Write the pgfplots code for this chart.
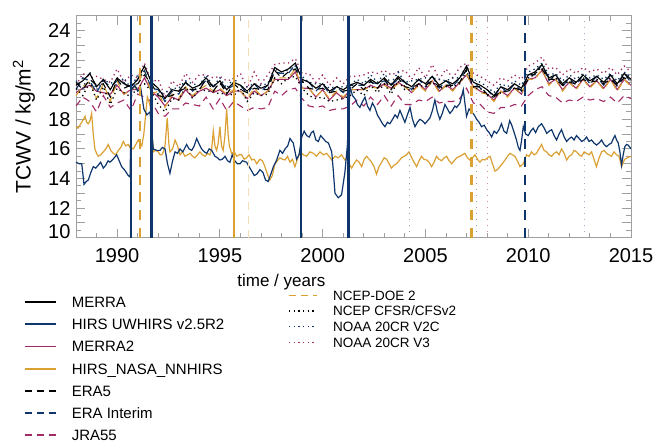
\documentclass[border=0pt]{standalone}
\usepackage{pgfplots}
\usepackage{pgfplotstable}
\pgfplotsset{compat=1.18}
\usepackage{fontspec}
\setmainfont{Liberation Sans}

\definecolor{hnavy}{RGB}{14,54,108}
\definecolor{hplum}{RGB}{162,42,102}
\definecolor{hgold}{RGB}{218,160,50}

\tikzset{
  dsh/.style={dash pattern=on 7pt off 5pt},
  dts/.style={dash pattern=on 1.3pt off 3.4pt},
}

% reanalyses, every third of a year
\pgfplotstableread{
t merra merra2 era5 erai jra ncep2 cfsr v2c v3
1988.00 20.3 19.8 20.5 20.0 18.9 19.6 20.1 20.6 20.3
1988.33 20.6 20.1 20.0 20.8 19.5 20.2 19.6 20.1 21.1
1988.67 21.1 20.3 20.7 20.6 19.2 20.6 20.5 21.2 20.8
1989.00 20.2 19.9 20.3 19.8 18.5 19.4 19.3 20.0 20.9
1989.33 20.7 19.8 20.4 20.6 19.6 20.4 20.2 20.6 20.7
1989.67 20.0 19.7 19.5 20.2 18.8 19.2 19.0 20.5 20.5
1990.00 20.8 20.3 20.7 20.6 19.1 20.6 20.1 20.3 21.4
1990.33 20.4 19.7 20.1 20.5 19.3 19.7 19.8 20.8 20.5
1990.67 20.2 20.0 20.3 19.9 18.6 19.9 19.5 20.1 21.0
1991.00 20.7 20.0 20.4 20.7 19.7 20.4 20.2 21.0 20.8
1991.33 21.6 20.8 21.0 21.3 19.5 21.3 20.4 21.0 21.8
1991.67 20.5 19.9 20.4 20.1 19.2 19.7 19.9 20.8 20.5
1992.00 20.1 19.5 19.6 20.0 18.4 19.9 19.0 19.7 20.7
1992.33 19.4 18.9 19.5 19.2 18.2 18.8 18.5 19.8 19.5
1992.67 20.0 19.5 19.6 19.9 18.7 19.7 19.4 20.1 20.6
1993.00 19.9 19.3 19.9 19.7 18.7 19.4 19.3 20.1 20.2
1993.33 20.5 20.0 20.1 20.5 19.1 20.2 20.2 20.6 21.1
1993.67 20.1 19.5 20.0 19.9 19.0 19.6 19.4 20.4 20.5
1994.00 20.3 19.9 20.0 20.3 18.9 20.0 20.1 20.3 21.0
1994.33 20.8 20.1 20.7 20.6 19.5 20.3 19.9 21.0 21.0
1994.67 20.2 19.8 19.9 20.2 18.7 19.9 19.9 20.2 20.8
1995.00 20.6 20.0 20.5 20.4 19.4 20.1 19.7 20.8 20.9
1995.33 20.0 19.6 19.7 20.0 18.6 19.7 19.8 20.1 20.6
1995.67 20.5 19.9 20.4 20.3 19.2 20.0 19.6 20.8 20.7
1996.00 20.3 19.9 20.0 20.3 18.9 19.9 20.1 20.2 21.1
1996.33 19.9 19.4 19.8 19.7 18.6 19.4 19.2 20.2 20.1
1996.67 20.4 19.9 20.1 20.4 18.8 20.1 19.8 20.4 21.2
1997.00 20.1 19.6 20.0 19.9 18.7 19.6 19.6 20.3 20.4
1997.33 20.3 19.9 20.0 20.3 18.8 19.9 19.7 20.4 21.0
1997.67 21.5 20.7 21.3 21.2 19.9 20.8 20.8 21.5 21.7
1998.00 21.2 20.7 20.8 21.1 19.6 20.8 20.4 21.0 21.8
1998.33 21.4 20.7 21.2 21.1 20.0 20.8 20.8 21.4 21.8
1998.67 21.8 21.2 21.4 21.7 20.1 21.4 20.9 21.6 22.1
1999.00 20.7 20.1 20.6 20.5 19.4 20.1 20.1 20.9 21.1
1999.33 20.5 20.1 20.1 20.5 18.9 20.1 19.6 20.5 21.1
1999.67 20.1 19.5 20.0 19.9 18.8 19.5 19.4 20.4 20.5
2000.00 20.4 20.0 20.1 20.4 18.9 20.0 19.5 20.4 21.0
2000.33 19.9 19.3 19.8 19.7 18.6 19.4 19.2 20.1 20.3
2000.67 20.2 19.8 19.9 20.2 18.7 19.9 19.3 20.2 20.8
2001.00 20.0 19.4 19.9 19.8 18.7 19.5 19.4 20.2 20.4
2001.33 20.3 20.0 20.0 20.3 18.9 20.0 19.6 20.3 20.9
2001.67 20.5 20.0 20.4 20.3 19.3 20.0 20.0 20.7 20.9
2002.00 20.3 20.0 20.0 20.3 18.9 20.0 19.6 20.4 21.0
2002.33 20.7 20.3 20.6 20.5 19.5 20.2 20.3 21.0 21.2
2002.67 20.4 20.1 20.1 20.4 19.0 20.1 19.8 20.5 21.1
2003.00 20.8 20.4 20.7 20.6 19.6 20.3 20.4 21.1 21.3
2003.33 20.3 20.1 20.0 20.3 18.9 20.0 19.7 20.4 21.0
2003.67 20.9 20.5 20.8 20.7 19.6 20.4 20.6 21.2 21.2
2004.00 20.5 20.2 20.2 20.5 19.0 20.2 20.0 20.5 21.3
2004.33 20.2 19.8 20.1 20.0 19.0 19.8 20.0 20.6 20.7
2004.67 20.7 20.4 20.4 20.7 19.3 20.3 20.3 20.7 21.5
2005.00 20.4 20.0 20.3 20.2 19.2 19.9 20.2 20.8 20.8
2005.33 20.9 20.6 20.6 20.9 19.5 20.6 20.5 20.8 21.7
2005.67 20.3 19.9 20.2 20.1 19.1 19.8 20.1 20.7 20.7
2006.00 20.6 20.3 20.3 20.6 19.2 20.3 20.2 20.6 21.4
2006.33 20.4 20.0 20.3 20.2 19.2 19.9 20.2 20.8 20.8
2006.67 20.8 20.5 20.5 20.8 19.4 20.5 20.4 20.8 21.5
2007.00 21.6 21.0 21.4 21.3 20.1 21.0 21.3 21.6 21.8
2007.33 20.5 20.2 20.2 20.5 19.1 20.2 20.1 20.7 21.1
2007.67 20.3 19.9 20.2 20.1 19.0 19.8 20.1 20.5 20.9
2008.00 20.0 19.7 19.7 20.0 18.5 19.7 19.6 20.2 20.6
2008.33 19.6 19.3 19.5 19.5 18.4 19.2 19.5 19.8 20.3
2008.67 20.2 19.9 19.9 20.2 18.8 19.9 19.8 20.4 20.8
2009.00 20.0 19.6 19.9 19.8 18.8 19.5 19.9 20.2 20.6
2009.33 20.4 20.1 20.1 20.4 19.0 20.1 20.1 20.6 21.0
2009.67 20.1 19.7 20.0 19.9 18.9 19.7 19.9 20.3 20.7
2010.00 21.0 20.7 20.7 21.0 19.6 20.7 20.8 21.2 21.6
2010.33 21.2 20.8 21.1 21.0 20.0 20.7 21.2 21.4 21.8
2010.67 21.7 21.3 21.4 21.7 20.2 21.4 21.5 21.8 22.2
2011.00 20.8 20.4 20.7 20.6 19.6 20.3 20.8 21.0 21.4
2011.33 21.0 20.7 20.7 21.0 19.5 20.7 20.8 21.1 21.5
2011.67 20.4 20.0 20.3 20.2 19.1 19.9 20.3 20.6 21.0
2012.00 20.8 20.5 20.5 20.8 19.3 20.5 20.6 21.0 21.4
2012.33 20.5 20.1 20.4 20.3 19.2 20.0 20.5 20.7 21.1
2012.67 21.0 20.7 20.7 21.0 19.5 20.7 20.8 21.1 21.5
2013.00 20.6 20.2 20.5 20.4 19.3 20.1 20.6 20.8 21.2
2013.33 20.9 20.6 20.6 20.9 19.4 20.6 20.7 21.0 21.4
2013.67 20.5 20.1 20.4 20.3 19.2 20.0 20.5 20.7 21.1
2014.00 21.0 20.7 20.7 21.0 19.5 20.7 20.8 21.1 21.5
2014.33 20.4 20.0 20.3 20.2 19.1 19.9 20.4 20.6 21.0
2014.67 21.1 20.7 20.8 21.1 19.6 20.7 20.9 21.2 21.6
2015.00 20.7 20.3 20.6 20.5 19.4 20.2 20.7 20.8 21.2
}\reana

% HIRS UWHIRS v2.5R2
\pgfplotstableread{
t v
1988.00 15.1
1988.15 15.0
1988.28 15.0
1988.39 13.6
1988.50 13.8
1988.60 13.9
1988.72 14.4
1988.84 14.8
1988.96 14.7
1989.08 14.9
1989.20 15.1
1989.33 14.7
1989.45 14.9
1989.56 15.2
1989.65 15.1
1989.80 15.3
1989.98 15.6
1990.10 15.2
1990.22 14.8
1990.35 14.6
1990.45 14.4
1990.54 14.2
1990.63 14.1
1990.70 20.0
1990.85 20.3
1991.00 19.9
1991.15 20.1
1991.30 18.7
1991.45 18.3
1991.60 18.5
1991.76 16.0
1991.92 15.9
1992.09 15.9
1992.20 16.1
1992.33 16.0
1992.45 15.0
1992.57 14.35
1992.70 15.2
1992.82 15.8
1992.94 15.7
1993.06 16.0
1993.20 15.8
1993.38 16.3
1993.50 16.0
1993.63 15.9
1993.75 16.2
1993.87 16.7
1994.00 16.3
1994.11 16.0
1994.24 15.8
1994.36 15.7
1994.48 16.0
1994.60 15.9
1994.76 15.5
1994.88 15.4
1995.00 15.25
1995.12 15.3
1995.25 15.5
1995.37 15.2
1995.49 15.1
1995.60 15.6
1995.72 15.2
1995.85 15.0
1995.98 15.0
1996.10 15.2
1996.30 15.1
1996.42 14.8
1996.55 14.5
1996.67 14.2
1996.80 14.3
1996.95 14.6
1997.10 14.4
1997.22 13.9
1997.35 13.8
1997.48 14.3
1997.60 14.8
1997.75 15.2
1997.92 15.9
1998.05 15.7
1998.17 16.0
1998.30 16.2
1998.41 16.7
1998.57 16.4
1998.73 15.3
1998.85 15.6
1998.98 16.8
1999.10 17.2
1999.22 16.9
1999.35 16.8
1999.45 17.1
1999.55 17.2
1999.67 16.6
1999.79 16.5
1999.90 16.9
2000.03 16.7
2000.15 16.5
2000.28 16.4
2000.44 15.8
2000.52 14.5
2000.60 13.0
2000.76 12.7
2000.92 12.9
2001.08 14.4
2001.20 16.2
2001.33 20.2
2001.45 19.6
2001.57 19.4
2001.69 19.0
2001.81 18.8
2001.94 19.2
2002.06 19.5
2002.18 18.9
2002.30 18.6
2002.42 19.1
2002.54 18.8
2002.66 18.3
2002.79 18.0
2002.91 17.7
2003.03 17.5
2003.15 17.8
2003.27 17.7
2003.40 18.0
2003.52 18.3
2003.64 18.1
2003.76 18.6
2003.88 18.2
2004.00 17.8
2004.12 18.3
2004.25 18.8
2004.37 18.0
2004.49 17.5
2004.61 17.8
2004.73 18.0
2004.85 17.9
2004.98 17.7
2005.10 17.9
2005.22 18.1
2005.34 18.6
2005.46 19.3
2005.58 18.5
2005.70 18.0
2005.82 18.4
2005.95 19.0
2006.07 18.7
2006.19 18.4
2006.31 18.6
2006.43 18.9
2006.52 18.8
2006.68 19.1
2006.84 20.0
2007.00 18.2
2007.12 18.7
2007.25 18.5
2007.37 18.3
2007.49 18.0
2007.61 17.8
2007.73 17.5
2007.86 17.6
2007.98 17.3
2008.10 17.1
2008.22 16.8
2008.34 17.2
2008.46 17.05
2008.58 17.3
2008.70 17.7
2008.82 17.2
2008.95 17.05
2009.10 17.9
2009.20 17.6
2009.27 17.3
2009.43 16.6
2009.52 16.1
2009.60 15.9
2009.68 16.6
2009.76 17.5
2009.88 17.0
2010.00 16.9
2010.12 17.2
2010.24 17.4
2010.36 17.1
2010.49 17.5
2010.65 17.7
2010.78 17.4
2010.90 17.05
2011.02 17.2
2011.14 17.3
2011.26 16.9
2011.38 16.6
2011.50 17.0
2011.62 17.3
2011.75 16.8
2011.87 16.5
2012.00 16.7
2012.11 16.8
2012.23 16.6
2012.35 16.9
2012.48 16.7
2012.60 16.5
2012.72 16.6
2012.84 16.8
2012.96 16.5
2013.08 16.6
2013.20 16.4
2013.32 16.26
2013.45 16.4
2013.57 16.6
2013.69 16.3
2013.81 16.15
2013.93 16.3
2014.05 16.4
2014.14 16.7
2014.22 16.9
2014.30 16.6
2014.38 16.4
2014.46 15.8
2014.54 14.9
2014.62 15.6
2014.70 16.15
2014.78 16.3
2014.86 16.26
2014.95 16.1
2015.00 16.0
}\uwhirs

% HIRS_NASA_NNHIRS
\pgfplotstableread{
t v
1988.00 17.5
1988.10 17.4
1988.19 17.6
1988.32 17.9
1988.44 18.2
1988.52 17.8
1988.60 17.7
1988.68 17.9
1988.76 18.4
1988.84 17.0
1988.92 16.0
1989.00 15.7
1989.08 15.5
1989.20 15.6
1989.33 15.8
1989.45 16.0
1989.57 16.3
1989.69 15.9
1989.81 15.7
1989.93 15.6
1990.06 15.9
1990.18 16.1
1990.30 16.5
1990.42 16.2
1990.54 16.3
1990.63 16.1
1990.79 16.0
1990.91 16.3
1991.03 16.6
1991.12 16.4
1991.20 16.2
1991.30 17.0
1991.36 17.9
1991.47 19.5
1991.55 19.2
1991.62 18.8
1991.76 15.8
1991.88 15.9
1992.00 15.8
1992.09 15.6
1992.17 15.6
1992.25 15.8
1992.33 16.2
1992.44 18.1
1992.52 16.3
1992.57 15.8
1992.70 16.0
1992.82 16.6
1992.94 16.2
1993.06 15.6
1993.18 15.8
1993.30 15.5
1993.42 15.6
1993.55 15.7
1993.67 15.5
1993.79 15.4
1993.91 15.6
1994.03 15.8
1994.15 15.6
1994.28 15.5
1994.40 15.7
1994.52 15.6
1994.60 16.0
1994.68 17.2
1994.76 16.2
1994.84 15.9
1994.92 16.4
1995.00 17.5
1995.08 16.2
1995.16 15.9
1995.24 16.8
1995.33 18.7
1995.40 17.0
1995.46 16.2
1995.57 15.7
1995.70 15.8
1995.82 15.5
1995.94 15.6
1996.06 15.6
1996.18 15.3
1996.30 15.4
1996.42 15.6
1996.55 15.25
1996.67 15.3
1996.79 15.0
1996.95 15.3
1997.07 15.2
1997.19 14.8
1997.31 14.3
1997.43 13.9
1997.55 14.2
1997.68 15.0
1997.80 15.2
1997.92 15.4
1998.05 15.3
1998.17 15.25
1998.29 15.5
1998.41 15.1
1998.53 15.3
1998.65 14.8
1998.77 15.3
1998.90 15.8
1999.06 15.6
1999.22 15.5
1999.38 15.8
1999.55 15.7
1999.70 15.5
1999.87 15.8
2000.03 15.6
2000.19 15.7
2000.31 15.5
2000.44 15.25
2000.60 15.5
2000.76 15.4
2000.92 15.6
2001.08 15.25
2001.20 15.4
2001.33 14.9
2001.41 14.7
2001.53 15.0
2001.65 15.25
2001.77 15.1
2001.90 14.8
2002.02 15.3
2002.14 15.5
2002.26 15.3
2002.38 15.1
2002.50 14.8
2002.62 14.3
2002.74 14.8
2002.87 15.1
2002.99 15.4
2003.11 15.3
2003.23 15.0
2003.35 14.7
2003.47 14.9
2003.60 15.0
2003.72 15.2
2003.84 15.4
2003.96 15.5
2004.08 15.6
2004.20 15.8
2004.33 15.4
2004.45 15.1
2004.57 14.8
2004.69 15.2
2004.81 15.5
2004.93 15.3
2005.06 15.25
2005.18 15.1
2005.30 14.8
2005.42 15.1
2005.54 15.5
2005.66 15.3
2005.79 15.2
2005.91 15.4
2006.03 15.5
2006.15 15.2
2006.27 15.0
2006.40 15.2
2006.52 15.4
2006.68 15.5
2006.80 15.6
2006.92 15.7
2007.04 15.4
2007.16 15.25
2007.29 15.4
2007.41 15.6
2007.53 15.3
2007.65 15.1
2007.77 15.3
2007.89 15.25
2008.02 15.4
2008.14 15.5
2008.26 15.0
2008.38 14.5
2008.50 14.6
2008.62 14.8
2008.74 15.0
2008.87 15.25
2008.99 15.5
2009.11 15.7
2009.23 15.6
2009.35 15.5
2009.47 15.2
2009.60 14.8
2009.68 14.9
2009.76 15.0
2009.92 15.6
2010.04 15.5
2010.16 15.8
2010.28 15.6
2010.40 15.7
2010.52 16.0
2010.65 16.3
2010.77 15.9
2010.89 15.8
2011.01 15.6
2011.14 15.5
2011.26 15.7
2011.38 15.8
2011.50 15.6
2011.62 16.0
2011.75 15.7
2011.87 15.25
2011.99 15.5
2012.11 15.6
2012.23 15.9
2012.35 15.8
2012.48 15.6
2012.60 15.5
2012.72 15.8
2012.84 15.7
2012.96 15.6
2013.08 15.8
2013.20 15.3
2013.32 14.8
2013.45 15.4
2013.57 15.8
2013.69 15.9
2013.81 15.7
2013.93 15.6
2014.05 15.5
2014.17 15.8
2014.30 15.6
2014.42 15.5
2014.54 14.8
2014.62 15.1
2014.70 15.3
2014.82 15.4
2015.00 15.5
}\nnhirs

\begin{document}
\begin{tikzpicture}
\begin{axis}[
  at={(0,0)}, anchor=south west,
  width=555pt, height=222pt, scale only axis,
  xmin=1988, xmax=2015, ymin=10, ymax=25,
  xtick={1990,1995,...,2015},
  minor xtick={1988,1989,...,2015},
  ytick={10,11,...,25},
  yticklabels={\raisebox{12pt}{10},,12,,14,,16,,18,,20,,22,,24,},
  minor ytick={10.5,11.5,...,24.5},
  tick align=inside,
  major tick length=9pt, minor tick length=5pt,
  axis line style={gray!75, line width=0.9pt},
  every tick/.style={gray!75, line width=0.8pt},
  /pgf/number format/assume math mode=true,
  tick label style={font=\fontsize{20}{20}\selectfont},
  x tick label style={/pgf/number format/1000 sep=, yshift=-7pt},
  y tick label style={xshift=-2pt},
  xlabel={time / years},
  xlabel style={font=\fontsize{17}{17}\selectfont, at={(axis description cs:0.37,-0.2)}, anchor=center},
  ylabel={TCWV / kg/m\textsuperscript{2}},
  ylabel style={font=\fontsize{21}{21}\selectfont, at={(axis description cs:-0.0937,0.5)}, anchor=center},
  legend image code/.code={\draw[#1] (0pt,0pt) -- (31pt,0pt); \path (46pt,0pt);},
  legend cell align=left,
  legend style={at={(axis description cs:-0.0937,-0.2658)}, anchor=north west,
    draw=none, fill=none, inner sep=0pt, outer sep=0pt, row sep=11.5pt,
    font=\fontsize{15}{15}\selectfont,
    nodes={inner sep=0pt, text height=10.7pt, text depth=0pt}},
]
\addlegendimage{black, line width=1.8pt}
\addlegendentry{MERRA}
\addlegendimage{hnavy, line width=1.8pt}
\addlegendentry{HIRS UWHIRS v2.5R2}
\addlegendimage{hplum, line width=1.8pt}
\addlegendentry{MERRA2}
\addlegendimage{hgold, line width=1.8pt}
\addlegendentry{HIRS\_NASA\_NNHIRS}
\addlegendimage{black, line width=1.8pt, dash pattern=on 7pt off 5pt}
\addlegendentry{ERA5}
\addlegendimage{hnavy, line width=1.8pt, dash pattern=on 7pt off 5pt}
\addlegendentry{ERA Interim}
\addlegendimage{hplum, line width=1.8pt, dash pattern=on 7pt off 5pt}
\addlegendentry{JRA55}

\addplot[hplum, line width=1.1pt, dsh, forget plot] table[x=t, y=jra] {\reana};
\addplot[hplum, line width=1.1pt, forget plot] table[x=t, y=merra2] {\reana};
\addplot[hgold, line width=1.1pt, dsh, forget plot] table[x=t, y=ncep2] {\reana};
\addplot[hnavy, line width=1.1pt, dsh, forget plot] table[x=t, y=erai] {\reana};
\addplot[black, line width=1.1pt, dsh, forget plot] table[x=t, y=era5] {\reana};
\addplot[hplum, line width=1.3pt, dts, forget plot] table[x=t, y=v3] {\reana};
\addplot[hnavy, line width=1.3pt, dts, forget plot] table[x=t, y=v2c] {\reana};
\addplot[black, line width=1.3pt, dts, forget plot] table[x=t, y=cfsr] {\reana};
\addplot[black, line width=1.1pt, forget plot] table[x=t, y=merra] {\reana};
\addplot[hgold, line width=1.2pt, forget plot] table[x=t, y=v] {\nnhirs};
\addplot[hnavy, line width=1.2pt, forget plot] table[x=t, y=v] {\uwhirs};

% break points
\addplot[hnavy, line width=2.3pt, forget plot] coordinates {(1990.66,10) (1990.66,25)};
\addplot[hnavy, line width=2.3pt, forget plot] coordinates {(1991.68,10) (1991.68,25)};
\addplot[hnavy, line width=2.3pt, forget plot] coordinates {(1998.93,10) (1998.93,25)};
\addplot[hnavy, line width=2.3pt, forget plot] coordinates {(2001.26,10) (2001.26,25)};
\addplot[hgold, line width=1.9pt, forget plot] coordinates {(1995.68,10) (1995.68,25)};
\addplot[hgold, line width=2.3pt, dash pattern=on 10pt off 7.7pt, forget plot] coordinates {(1991.10,10) (1991.10,25)};
\addplot[hgold, line width=2.3pt, dash pattern=on 10pt off 7.7pt, forget plot] coordinates {(2007.24,10) (2007.24,25)};
\addplot[hnavy, line width=2.3pt, dash pattern=on 10pt off 7.7pt, forget plot] coordinates {(2009.84,10) (2009.84,25)};
\addplot[hgold!35, line width=1.2pt, dash pattern=on 8pt off 6pt, forget plot] coordinates {(1996.41,10) (1996.41,25)};
\addplot[gray!80, line width=1pt, dash pattern=on 1pt off 5pt, forget plot] coordinates {(2004.24,10) (2004.24,25)};
\addplot[gray!80, line width=1pt, dash pattern=on 1pt off 5pt, forget plot] coordinates {(2007.49,10) (2007.49,25)};
\addplot[hplum!55, line width=1pt, dash pattern=on 1pt off 5pt, forget plot] coordinates {(2008.00,10) (2008.00,25)};
\addplot[hnavy!40, line width=1pt, dash pattern=on 1pt off 5pt, forget plot] coordinates {(2012.76,10) (2012.76,25)};
\end{axis}

\begin{axis}[
  at={(0,0)}, anchor=south west,
  width=555pt, height=222pt, scale only axis,
  hide axis, xmin=0, xmax=1, ymin=0, ymax=1,
  legend image code/.code={\draw[#1] (0pt,0pt) -- (28pt,0pt); \path (43.4pt,0pt);},
  legend cell align=left,
  legend style={at={(axis description cs:0.382,-0.2387)}, anchor=north west,
    draw=none, fill=none, inner sep=0pt, outer sep=0pt, row sep=5.9pt,
    font=\fontsize{13.5}{13.5}\selectfont,
    nodes={inner sep=0pt, text height=9.7pt, text depth=0pt}},
]
\addlegendimage{hgold, line width=1.8pt, dash pattern=on 7pt off 5pt}
\addlegendentry{NCEP-DOE 2}
\addlegendimage{black, line width=1.5pt, dash pattern=on 1.3pt off 3.4pt}
\addlegendentry{NCEP CFSR/CFSv2}
\addlegendimage{hnavy, line width=1.5pt, dash pattern=on 1.3pt off 3.4pt}
\addlegendentry{NOAA 20CR V2C}
\addlegendimage{hplum, line width=1.5pt, dash pattern=on 1.3pt off 3.4pt}
\addlegendentry{NOAA 20CR V3}
\end{axis}

\pgfresetboundingbox
\path (-76pt,-208.3pt) rectangle (580pt,237.7pt);
\end{tikzpicture}
\end{document}
